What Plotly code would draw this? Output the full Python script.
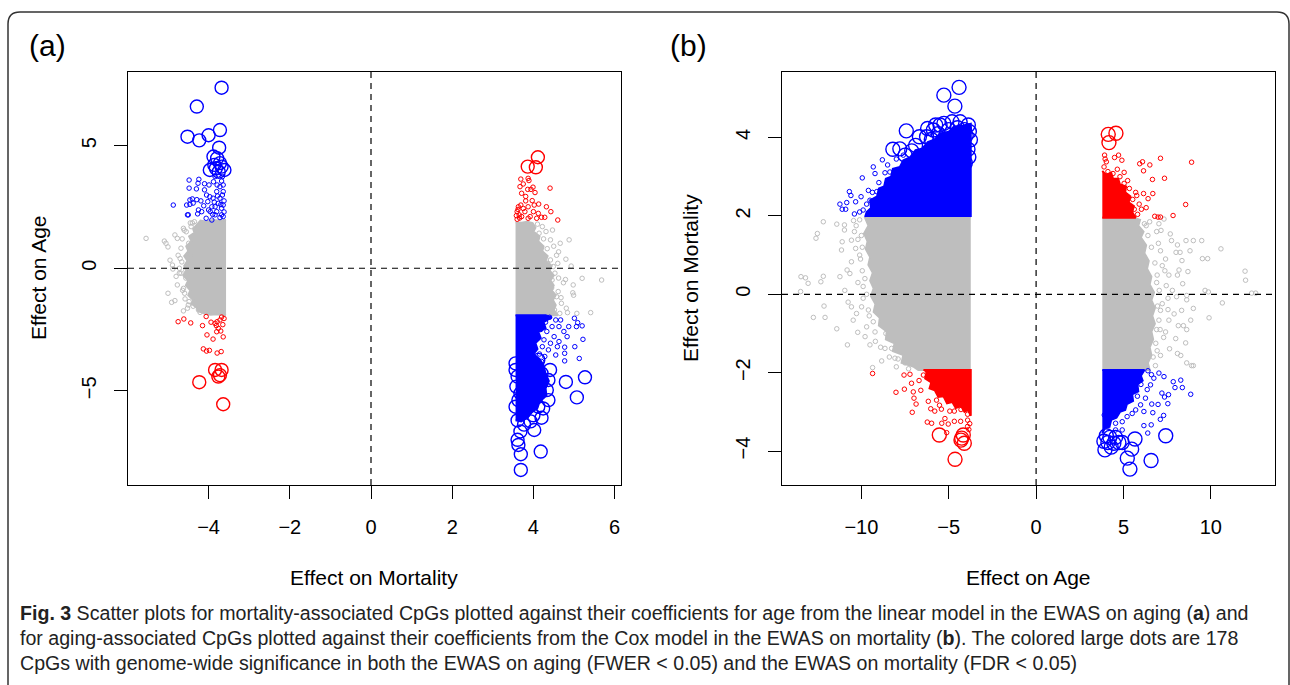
import plotly.graph_objects as go

W, H = 1290, 685
FONT = "Liberation Sans, Arimo, Arial, sans-serif"
CAP_FONT = "Liberation Sans, Arimo, Arial, sans-serif"
GREY, RED, BLUE = "#BEBEBE", "#FF0000", "#0000FF"

# ---------------- Panel (a): x = Effect on Mortality, y = Effect on Age ----------------
A_X_TICKS = [-4, -2, 0, 2, 4, 6]
A_X_LABELS = ["\u22124", "\u22122", "0", "2", "4", "6"]
A_Y_TICKS = [-5, 0, 5]
A_Y_LABELS = ["\u22125", "0", "5"]

A_GREY_L_CORE = [(-3.57, 1.97), (-3.75, 1.95), (-3.90, 1.97), (-4.05, 1.90), (-4.20, 1.95), (-4.30, 1.75),
                 (-4.38, 1.60), (-4.35, 1.45), (-4.48, 1.30), (-4.42, 1.10), (-4.55, 0.90), (-4.50, 0.70),
                 (-4.60, 0.50), (-4.52, 0.30), (-4.60, 0.10), (-4.55, -0.10), (-4.62, -0.30), (-4.50, -0.50),
                 (-4.56, -0.70), (-4.45, -0.90), (-4.50, -1.10), (-4.38, -1.30), (-4.42, -1.45), (-4.30, -1.60),
                 (-4.25, -1.75), (-4.10, -1.85), (-3.95, -1.90), (-3.80, -1.88), (-3.57, -1.92)]
A_GREY_L = [(-5.54, 1.22), (-5.09, 1.11), (-5.05, 1.02), (-5.00, 0.87), (-4.83, 1.36), (-4.77, 1.22),
            (-4.95, 0.33), (-4.89, 0.13), (-4.88, -0.03), (-4.80, -0.33), (-5.00, -1.02), (-4.91, -1.39),
            (-4.83, -1.32), (-4.62, -1.74), (-4.62, 1.63), (-4.55, 1.49), (-4.68, 0.82), (-4.75, 0.53),
            (-4.66, 0.26), (-4.77, -0.68), (-4.62, -0.82), (-4.72, -0.20), (-4.56, -0.40), (-4.59, -1.02),
            (-4.48, -1.36), (-4.52, -1.63), (-4.25, -1.70), (-4.21, -1.80), (-4.43, 1.70), (-4.49, 1.02),
            (-4.46, 0.26), (-4.56, -0.08), (-4.40, 1.85), (-4.45, 0.55), (-4.47, -0.60), (-4.38, -1.55),
            (-4.65, 1.20), (-4.70, 0.40), (-4.68, -0.20), (-4.64, -0.90), (-4.58, -1.25), (-4.45, 1.85),
            (-4.60, 1.55), (-4.72, 0.00), (-4.35, 1.90), (-4.50, -1.50)]
A_BLUE_L_SMALL = [(-4.87, 2.58), (-4.48, 3.60), (-4.48, 3.27), (-4.24, 3.63), (-4.26, 3.47), (-4.30, 3.24),
                  (-4.10, 3.45), (-3.88, 3.53), (-4.46, 2.79), (-4.40, 2.83), (-4.29, 2.80), (-4.19, 2.75),
                  (-4.54, 2.58), (-4.46, 2.61), (-4.38, 2.66), (-4.50, 2.18), (-4.52, 2.18), (-4.25, 2.38),
                  (-4.17, 2.31), (-4.27, 2.22), (-4.00, 2.38), (-4.06, 2.04), (-3.92, 1.97), (-3.68, 2.18),
                  (-4.10, 3.20), (-4.05, 2.99), (-3.97, 2.92), (-3.89, 2.86), (-3.80, 3.13), (-3.72, 3.33),
                  (-3.64, 3.40), (-3.66, 2.99), (-3.76, 2.65), (-3.64, 2.58), (-3.68, 2.45), (-3.84, 2.51),
                  (-3.92, 2.51), (-3.96, 2.31), (-3.84, 2.18), (-3.72, 2.07), (-3.64, 2.11), (-3.76, 3.81),
                  (-3.66, 3.74), (-3.84, 3.74), (-3.68, 3.56), (-3.79, 3.40), (-3.99, 3.40), (-3.64, 3.13),
                  (-3.72, 2.86), (-3.80, 2.31), (-3.62, 2.30), (-3.62, 2.75), (-3.70, 2.60), (-3.78, 2.95),
                  (-3.86, 2.70), (-3.90, 2.20), (-4.12, 2.55), (-4.02, 2.72)]
A_BLUE_L_BIG = [(-3.68, 7.37), (-4.29, 6.60), (-4.52, 5.37), (-4.23, 5.22), (-4.00, 5.43), (-3.72, 5.64),
                (-3.74, 4.92), (-3.88, 4.56), (-3.79, 4.49), (-3.72, 4.29), (-3.68, 4.15), (-3.97, 4.01),
                (-3.61, 4.01), (-3.75, 3.94), (-3.86, 4.22), (-3.82, 4.08)]
A_RED_L_SMALL = [(-4.75, -2.18), (-4.61, -2.07), (-4.44, -2.23), (-4.15, -2.34), (-4.06, -1.97), (-3.94, -2.20),
                 (-3.84, -2.25), (-3.79, -2.18), (-3.72, -2.11), (-3.68, -1.99), (-3.76, -2.45), (-3.81, -2.34),
                 (-3.80, -2.59), (-3.70, -2.56), (-4.04, -2.72), (-3.89, -2.89), (-3.64, -2.80), (-4.13, -3.29),
                 (-4.05, -3.38), (-3.98, -3.35), (-3.79, -3.46), (-3.69, -3.40), (-3.62, -2.05), (-3.65, -2.30)]
A_RED_L_BIG = [(-3.84, -4.15), (-3.68, -4.15), (-3.72, -4.36), (-3.76, -4.42), (-4.23, -4.65), (-3.64, -5.55)]

A_GREY_R_CORE = [(3.56, 1.88), (3.70, 1.86), (3.85, 1.90), (3.98, 1.84), (4.05, 1.65), (4.00, 1.50),
                 (4.15, 1.30), (4.12, 1.10), (4.25, 0.90), (4.22, 0.70), (4.35, 0.50), (4.30, 0.30),
                 (4.45, 0.10), (4.40, -0.10), (4.50, -0.30), (4.42, -0.50), (4.50, -0.70), (4.45, -0.90),
                 (4.55, -1.10), (4.48, -1.30), (4.55, -1.50), (4.50, -1.70), (4.60, -1.92), (3.56, -1.92)]
A_GREY_R = [(5.68, -0.48), (5.41, -1.81), (5.20, -0.41), (4.98, -0.68), (4.97, -1.00), (4.99, -1.10),
            (5.07, -1.84), (4.88, 1.16), (4.80, 0.37), (4.93, 0.09), (4.79, -0.46), (4.74, -0.59),
            (4.66, 1.02), (4.62, 0.67), (4.57, 0.53), (4.47, 1.56), (4.42, 1.16), (4.31, 1.50),
            (4.34, 0.80), (4.69, -1.43), (4.81, -1.63), (4.84, -1.81), (4.61, -0.95), (4.53, -0.20),
            (4.49, 0.07), (4.42, 0.34), (4.46, -0.48), (4.57, -1.16), (4.65, -1.84), (4.22, 1.70),
            (4.14, 1.43), (4.38, -0.20), (4.40, -1.30), (4.35, 0.20), (4.25, 1.20), (4.52, -1.70),
            (4.45, -0.80), (4.10, 1.80), (4.60, 0.20), (4.62, -0.40), (4.68, -1.20), (4.50, 0.90)]
A_RED_R_SMALL = [(3.69, 3.64), (3.87, 3.67), (3.89, 3.58), (3.67, 3.33), (3.75, 3.44), (3.86, 3.22),
                 (3.94, 3.22), (3.99, 3.31), (4.04, 3.09), (3.71, 3.06), (3.81, 2.93), (3.81, 2.75),
                 (3.97, 2.76), (4.41, 3.27), (3.63, 2.51), (3.69, 2.58), (3.75, 2.44), (3.87, 2.51),
                 (4.02, 2.58), (4.13, 2.62), (4.32, 2.51), (4.43, 2.31), (3.60, 2.31), (3.65, 2.18),
                 (3.71, 2.11), (3.79, 2.31), (3.92, 2.11), (4.00, 2.31), (4.12, 2.24), (4.20, 2.08),
                 (4.28, 2.08), (4.60, 1.97), (3.60, 2.00), (3.87, 2.04), (4.08, 2.04), (3.58, 2.15),
                 (3.62, 2.40), (3.66, 2.05)]
A_RED_R_BIG = [(4.11, 4.53), (3.86, 4.15), (4.06, 4.12)]
A_BLUE_R_CORE = [(3.56, -1.92), (4.30, -1.92), (4.45, -2.00), (4.25, -2.20), (4.30, -2.45), (4.12, -2.60),
                 (4.18, -2.85), (4.05, -3.05), (4.10, -3.30), (4.00, -3.50), (4.15, -3.70), (4.25, -3.95),
                 (4.30, -4.30), (4.38, -4.60), (4.30, -4.90), (4.32, -5.20), (4.15, -5.45), (4.10, -5.70),
                 (3.95, -5.90), (3.85, -6.10), (3.70, -6.25), (3.56, -6.20)]
A_BLUE_R_SMALL = [(5.01, -2.04), (5.09, -2.22), (5.20, -2.35), (5.06, -2.38), (5.22, -2.90), (5.02, -3.20),
                  (5.13, -3.68), (4.87, -2.38), (4.75, -2.58), (4.83, -2.79), (4.77, -3.22), (4.63, -2.99),
                  (4.77, -3.47), (4.77, -3.78), (4.59, -3.20), (4.55, -3.54), (4.63, -2.38), (4.67, -2.11),
                  (4.55, -2.11), (4.46, -2.38), (4.51, -2.79), (4.42, -3.06), (4.37, -3.33), (4.28, -3.60),
                  (4.33, -2.58), (4.26, -2.92), (4.22, -3.20), (4.40, -2.00), (4.30, -2.20), (4.18, -2.50),
                  (4.15, -3.50), (4.20, -3.80)]
A_BLUE_R_BIG = [(5.27, -4.45), (4.80, -4.64), (5.07, -5.27), (4.18, -7.48), (3.69, -8.23), (3.69, -7.59),
                (3.63, -7.21), (3.61, -7.00), (3.68, -6.66), (4.02, -6.60), (3.77, -6.38), (3.61, -6.21),
                (3.93, -6.25), (4.12, -5.65), (4.24, -5.72), (3.56, -5.65), (3.63, -5.38), (3.79, -5.31),
                (3.99, -5.38), (4.37, -5.38), (4.33, -4.97), (4.37, -4.56), (4.41, -4.15), (3.56, -4.15),
                (3.61, -4.42), (3.58, -4.83), (3.68, -5.10), (3.89, -5.04), (4.05, -4.56), (4.20, -4.29),
                (3.77, -4.29), (3.85, -3.88), (3.56, -3.88), (4.12, -3.74), (4.00, -6.00), (3.75, -5.90),
                (4.20, -6.10)]

# ---------------- Panel (b): x = Effect on Age, y = Effect on Mortality ----------------
B_X_TICKS = [-10, -5, 0, 5, 10]
B_X_LABELS = ["\u221210", "\u22125", "0", "5", "10"]
B_Y_TICKS = [-4, -2, 0, 2, 4]
B_Y_LABELS = ["\u22124", "\u22122", "0", "2", "4"]

B_GREY_L_CORE = [(-3.74, 1.97), (-9.50, 1.97), (-9.79, 1.95), (-9.60, 1.75), (-9.85, 1.55), (-9.65, 1.35),
                 (-9.75, 1.15), (-9.50, 0.95), (-9.60, 0.75), (-9.35, 0.55), (-9.50, 0.35), (-9.30, 0.15),
                 (-9.45, -0.05), (-9.20, -0.25), (-9.30, -0.45), (-8.95, -0.60), (-9.00, -0.80), (-8.55, -0.95),
                 (-8.60, -1.15), (-8.10, -1.25), (-8.20, -1.45), (-7.60, -1.55), (-7.70, -1.75), (-7.00, -1.85),
                 (-6.74, -1.93), (-3.74, -1.93)]
B_GREY_L = [(-12.18, 1.85), (-12.52, 1.55), (-12.60, 1.43), (-11.41, 1.79), (-10.97, 1.77), (-10.97, 1.64),
            (-10.45, 1.88), (-11.10, 1.34), (-11.14, 1.13), (-10.82, 0.62), (-10.57, 1.38), (-10.33, 1.17),
            (-13.46, 0.45), (-13.20, 0.42), (-13.05, 0.28), (-12.32, 0.32), (-12.18, 0.46), (-11.23, 0.45),
            (-10.66, 0.53), (-10.57, 0.83), (-10.10, 1.00), (-13.48, 0.07), (-12.75, -0.59), (-12.08, -0.59),
            (-12.14, -0.30), (-11.41, -0.88), (-10.80, -1.29), (-10.21, -0.97), (-9.79, -1.08), (-9.51, -1.29),
            (-9.36, -1.87), (-8.84, -1.70), (-8.65, -1.38), (-9.22, -0.96), (-9.32, -0.70), (-10.47, -0.66),
            (-10.57, -0.32), (-10.76, -0.20), (-10.95, 0.10), (-10.28, -0.49), (-9.99, -0.32), (-9.70, -0.83),
            (-8.27, -1.38), (-8.08, -1.63), (-10.00, 1.50), (-9.95, 0.60), (-9.90, 0.20), (-9.60, -0.40),
            (-10.20, 0.30), (-10.40, 1.60), (-9.95, 1.20), (-8.60, -1.00), (-7.50, -1.75), (-7.30, -1.90),
            (-8.00, -1.85), (-10.10, 1.90), (-10.20, 1.40), (-10.05, 0.90), (-9.80, 0.40), (-9.70, 0.00),
            (-9.55, -0.55), (-9.20, -1.20), (-8.90, -1.35), (-8.40, -1.60), (-7.90, -1.65), (-10.30, 1.75),
            (-9.90, -0.10)]
B_BLUE_L_CORE = [(-9.79, 1.97), (-9.70, 2.10), (-9.45, 2.20), (-9.50, 2.40), (-9.10, 2.50), (-9.00, 2.70),
                 (-8.70, 2.75), (-8.60, 2.95), (-8.30, 3.00), (-8.20, 3.20), (-7.80, 3.25), (-7.60, 3.42),
                 (-7.20, 3.50), (-6.90, 3.68), (-6.50, 3.72), (-6.20, 3.88), (-5.80, 3.95), (-5.50, 4.10),
                 (-5.00, 4.15), (-4.70, 4.28), (-4.20, 4.30), (-3.74, 4.35), (-3.74, 1.97)]
B_BLUE_L_SMALL = [(-11.23, 2.30), (-11.10, 2.17), (-10.90, 2.17), (-10.84, 2.34), (-10.69, 2.62), (-10.60, 2.52),
                  (-10.33, 2.36), (-10.02, 2.49), (-9.95, 2.97), (-9.70, 2.30), (-9.32, 3.25), (-9.22, 3.08),
                  (-8.80, 3.43), (-8.65, 3.10), (-8.37, 3.12), (-9.37, 2.60), (-9.12, 2.62), (-9.51, 2.40),
                  (-10.10, 2.10), (-9.90, 2.15), (-9.00, 2.85), (-8.50, 3.30), (-8.00, 3.45), (-7.60, 3.55),
                  (-9.60, 2.65), (-10.40, 2.05)]
B_BLUE_L_BIG = [(-8.20, 3.70), (-7.80, 3.71), (-7.43, 4.17), (-7.12, 3.66), (-6.68, 4.02), (-6.27, 4.02),
                (-6.21, 4.23), (-5.88, 4.19), (-5.75, 4.32), (-5.50, 4.32), (-5.28, 4.36), (-4.81, 4.40),
                (-4.35, 4.40), (-3.88, 4.32), (-3.76, 3.94), (-5.28, 5.08), (-4.41, 5.28), (-4.65, 4.80),
                (-4.10, 4.20), (-4.50, 4.25), (-5.00, 4.20), (-5.60, 4.10), (-6.00, 3.95), (-6.90, 3.80),
                (-7.50, 3.55), (-4.00, 4.05), (-3.90, 3.70), (-4.20, 3.85), (-4.60, 4.05), (-3.82, 4.15),
                (-3.85, 3.50), (-4.05, 3.35)]
B_RED_L_CORE = [(-6.45, -1.93), (-3.74, -1.93), (-3.74, -3.10), (-3.90, -2.95), (-4.10, -3.00), (-4.30, -2.85),
                (-4.60, -2.90), (-4.80, -2.75), (-5.10, -2.78), (-5.30, -2.60), (-5.60, -2.62), (-5.80, -2.45),
                (-6.10, -2.40), (-6.00, -2.25), (-6.35, -2.15), (-6.30, -2.02)]
B_RED_L_SMALL = [(-9.36, -2.02), (-8.02, -2.50), (-7.54, -2.42), (-7.56, -2.06), (-7.22, -2.04), (-7.13, -2.27),
                 (-7.03, -2.49), (-6.99, -2.65), (-6.87, -2.80), (-7.09, -3.01), (-6.45, -2.06), (-6.17, -2.73),
                 (-6.03, -2.92), (-5.80, -2.98), (-5.53, -2.83), (-5.42, -2.93), (-6.23, -3.26), (-5.98, -3.29),
                 (-5.40, -3.29), (-5.22, -3.17), (-5.03, -3.31), (-4.94, -2.98), (-4.68, -2.98), (-4.68, -3.24),
                 (-4.32, -3.24), (-3.92, -3.06), (-3.92, -3.21), (-4.30, -2.94), (-4.10, -2.85), (-5.12, -3.53),
                 (-3.92, -3.37), (-6.70, -2.20), (-6.60, -2.45), (-5.70, -2.70), (-3.80, -3.30), (-3.85, -3.45)]
B_RED_L_BIG = [(-5.54, -3.59), (-4.17, -3.59), (-4.26, -3.67), (-4.11, -3.80), (-4.30, -3.72), (-4.64, -4.21)]

B_GREY_R_CORE = [(3.79, 1.95), (5.60, 1.95), (5.95, 1.90), (5.85, 1.75), (6.15, 1.60), (6.00, 1.45),
                 (6.30, 1.25), (6.20, 1.05), (6.45, 0.85), (6.35, 0.65), (6.60, 0.45), (6.50, 0.25),
                 (6.75, 0.05), (6.60, -0.15), (6.80, -0.35), (6.65, -0.55), (6.80, -0.75), (6.60, -0.95),
                 (6.70, -1.15), (6.50, -1.35), (6.60, -1.55), (6.40, -1.75), (6.50, -1.93), (3.79, -1.93)]
B_GREY_R = [(11.96, 0.59), (11.99, 0.36), (12.34, 0.03), (12.57, 0.03), (10.58, 1.16), (10.66, -0.22),
            (9.90, -0.60), (9.52, 0.91), (9.82, 0.91), (9.67, 0.10), (9.86, 0.06), (9.48, 1.37),
            (9.00, 1.37), (8.58, 1.37), (8.09, 1.26), (8.01, 1.07), (8.24, 1.07), (8.81, 1.11),
            (8.35, 0.86), (8.69, 0.58), (8.18, 0.62), (8.09, 0.49), (8.39, 0.27), (8.62, -0.03),
            (7.60, 0.49), (7.55, -0.10), (8.04, -0.06), (8.62, -0.14), (9.00, -0.36), (8.33, -0.41),
            (8.85, -0.66), (8.62, -0.90), (8.14, -0.80), (8.43, -0.80), (7.55, -0.39), (7.60, -0.66),
            (8.56, -1.24), (7.99, -1.13), (8.09, -1.51), (8.28, -1.56), (8.62, -1.75), (8.90, -1.82),
            (9.00, -1.82), (7.64, -1.39), (7.41, -0.96), (7.22, -0.24), (7.45, 0.22), (7.37, 0.60),
            (7.22, 0.73), (7.75, 1.37), (7.68, 1.54), (7.15, 1.63), (7.32, 1.92), (7.03, 1.80),
            (7.41, 0.90), (7.12, 1.11), (6.93, 0.49), (7.12, -0.41), (7.03, -0.66), (6.93, -1.44),
            (7.12, -1.56), (6.83, -1.82), (6.40, 1.50), (6.60, 1.20), (6.80, 0.80), (6.90, 0.30),
            (6.95, -0.30), (6.90, -0.90), (6.70, -1.60), (6.20, 1.80), (6.50, 1.85), (7.00, 1.30),
            (7.30, -1.10), (7.80, 0.10), (7.90, -0.50), (6.90, 1.60), (7.05, 0.10), (7.10, -0.90),
            (6.85, -1.25), (6.30, 1.75)]
B_RED_R_CORE = [(3.79, 1.95), (5.70, 1.95), (5.50, 2.10), (5.60, 2.25), (5.30, 2.35), (5.40, 2.50),
                (5.10, 2.60), (5.15, 2.75), (4.80, 2.80), (4.70, 2.95), (4.40, 2.95), (4.30, 3.10),
                (4.00, 3.05), (3.79, 3.15)]
B_RED_R_SMALL = [(3.92, 3.55), (3.95, 3.45), (4.02, 3.38), (4.49, 3.49), (4.72, 3.55), (4.91, 3.42),
                 (3.89, 3.25), (4.11, 3.13), (4.40, 3.08), (4.65, 3.19), (5.04, 3.11), (5.93, 3.33),
                 (6.09, 3.38), (6.51, 3.30), (7.12, 3.47), (8.90, 3.37), (6.15, 3.15), (6.66, 2.93),
                 (7.35, 2.96), (5.76, 2.52), (6.15, 2.57), (6.68, 2.57), (6.41, 2.44), (6.30, 2.21),
                 (6.03, 2.17), (6.79, 1.99), (6.98, 1.97), (7.12, 1.97), (7.84, 2.01), (8.56, 2.29),
                 (5.24, 2.90), (5.34, 2.70), (5.04, 2.83), (5.53, 2.42), (5.62, 2.17), (5.81, 2.04),
                 (5.90, 2.30), (5.70, 2.60), (4.80, 3.00)]
B_RED_R_BIG = [(4.13, 4.08), (4.57, 4.11), (4.17, 3.87)]
B_BLUE_R_CORE = [(3.79, -1.93), (6.20, -1.93), (6.00, -2.08), (6.10, -2.20), (5.80, -2.30), (5.85, -2.48),
                 (5.50, -2.55), (5.55, -2.72), (5.20, -2.80), (5.10, -2.95), (4.80, -3.00), (4.60, -3.15),
                 (4.30, -3.20), (4.20, -3.38), (3.95, -3.40), (3.79, -3.55)]
B_BLUE_R_SMALL = [(7.85, -2.23), (8.28, -2.19), (7.95, -2.38), (8.37, -2.38), (8.85, -2.55), (7.54, -2.79),
                  (7.35, -2.62), (7.58, -2.56), (7.20, -2.52), (6.98, -2.81), (7.30, -3.09), (7.11, -3.19),
                  (6.68, -3.02), (6.62, -2.80), (6.17, -2.99), (6.59, -3.33), (6.17, -3.35), (6.39, -3.54),
                  (7.32, -2.10), (7.03, -2.01), (6.74, -2.14), (6.55, -2.31), (6.36, -2.43), (6.26, -2.65),
                  (5.98, -2.82), (5.70, -2.95), (5.50, -3.04), (5.21, -3.12), (4.93, -3.25), (4.55, -3.29),
                  (4.17, -3.21), (3.90, -3.08), (4.93, -3.46), (4.55, -3.46), (6.40, -1.95), (6.60, -2.05),
                  (6.00, -2.30), (5.80, -2.60)]
B_BLUE_R_BIG = [(7.42, -3.61), (6.58, -4.24), (5.37, -4.46), (5.22, -4.18), (5.47, -3.95), (5.66, -3.69),
                (3.94, -3.97), (4.11, -3.78), (4.02, -3.61), (4.45, -3.80), (4.74, -3.78), (4.22, -3.65),
                (4.55, -3.65), (4.93, -3.78), (3.88, -3.75), (4.30, -3.90)]

CAPTION = [
    "<b>Fig. 3</b> Scatter plots for mortality-associated CpGs plotted against their coefficients for age "
    "from the linear model in the EWAS on aging (<b>a</b>) and",
    "for aging-associated CpGs plotted against their coefficients from the Cox model in the EWAS on "
    "mortality (<b>b</b>). The colored large dots are 178",
    "CpGs with genome-wide significance in both the EWAS on aging (FWER &lt; 0.05) and the EWAS on "
    "mortality (FDR &lt; 0.05)",
]

fig = go.Figure()


def xs(pts):
    return [p[0] for p in pts]


def ys(pts):
    return [p[1] for p in pts]


def core(pts, color, xa, ya):
    fig.add_trace(go.Scatter(x=xs(pts), y=ys(pts), mode="lines", fill="toself", fillcolor=color,
                             line=dict(color=color, width=2), xaxis=xa, yaxis=ya,
                             hoverinfo="skip", showlegend=False))


def pts(p, color, size, lw, xa, ya):
    fig.add_trace(go.Scatter(x=xs(p), y=ys(p), mode="markers",
                             marker=dict(symbol="circle-open", size=size, color=color,
                                         line=dict(width=lw, color=color)),
                             xaxis=xa, yaxis=ya, hoverinfo="skip", showlegend=False))


SM, BIG_A, BIG_B = 4.5, 13, 14
# panel a
core(A_GREY_L_CORE, GREY, "x", "y")
core(A_GREY_R_CORE, GREY, "x", "y")
pts(A_GREY_L, GREY, SM, 1, "x", "y")
pts(A_GREY_R, GREY, SM, 1, "x", "y")
core(A_BLUE_R_CORE, BLUE, "x", "y")
pts(A_BLUE_L_SMALL, BLUE, SM, 1, "x", "y")
pts(A_BLUE_R_SMALL, BLUE, SM, 1, "x", "y")
pts(A_RED_L_SMALL, RED, SM, 1, "x", "y")
pts(A_RED_R_SMALL, RED, SM, 1, "x", "y")
pts(A_BLUE_L_BIG, BLUE, BIG_A, 1.4, "x", "y")
pts(A_BLUE_R_BIG, BLUE, BIG_A, 1.4, "x", "y")
pts(A_RED_L_BIG, RED, BIG_A, 1.4, "x", "y")
pts(A_RED_R_BIG, RED, BIG_A, 1.4, "x", "y")
# panel b
core(B_GREY_L_CORE, GREY, "x2", "y2")
core(B_GREY_R_CORE, GREY, "x2", "y2")
pts(B_GREY_L, GREY, SM, 1, "x2", "y2")
pts(B_GREY_R, GREY, SM, 1, "x2", "y2")
core(B_BLUE_L_CORE, BLUE, "x2", "y2")
core(B_RED_L_CORE, RED, "x2", "y2")
core(B_RED_R_CORE, RED, "x2", "y2")
core(B_BLUE_R_CORE, BLUE, "x2", "y2")
pts(B_BLUE_L_SMALL, BLUE, SM, 1, "x2", "y2")
pts(B_RED_L_SMALL, RED, SM, 1, "x2", "y2")
pts(B_RED_R_SMALL, RED, SM, 1, "x2", "y2")
pts(B_BLUE_R_SMALL, BLUE, SM, 1, "x2", "y2")
pts(B_BLUE_L_BIG, BLUE, BIG_B, 1.4, "x2", "y2")
pts(B_RED_L_BIG, RED, BIG_B, 1.4, "x2", "y2")
pts(B_RED_R_BIG, RED, BIG_B, 1.4, "x2", "y2")
pts(B_BLUE_R_BIG, BLUE, BIG_B, 1.4, "x2", "y2")


def fx(px):
    return px / W


def fy(py):
    return 1 - py / H


axis_common = dict(showgrid=False, zeroline=False, showline=True, linecolor="black", linewidth=1.2,
                   mirror=True, ticks="outside", ticklen=13, tickwidth=1.2, tickcolor="black",
                   tickfont=dict(family=FONT, size=20, color="black"), fixedrange=True)
Y_DOM = [fy(485), fy(72)]

fig.update_layout(
    width=W, height=H, margin=dict(l=0, r=0, t=0, b=0),
    paper_bgcolor="white", plot_bgcolor="white", showlegend=False, hovermode=False,
    xaxis=dict(axis_common, domain=[fx(128), fx(620.5)], range=[-5.985, 6.145], anchor="y",
               tickvals=A_X_TICKS, ticktext=A_X_LABELS, ticklabelstandoff=11),
    yaxis=dict(axis_common, domain=Y_DOM, range=[-8.845, 8.01], anchor="x",
               tickvals=A_Y_TICKS, ticktext=A_Y_LABELS, tickangle=-90, ticklabelstandoff=10),
    xaxis2=dict(axis_common, domain=[fx(782), fx(1274.5)], range=[-14.545, 13.646], anchor="y2",
                tickvals=B_X_TICKS, ticktext=B_X_LABELS, ticklabelstandoff=11),
    yaxis2=dict(axis_common, domain=Y_DOM, range=[-4.865, 5.671], anchor="x2",
                tickvals=B_Y_TICKS, ticktext=B_Y_LABELS, tickangle=-90, ticklabelstandoff=10),
)

dash = dict(color="black", width=1.2, dash="6px,5px")
shapes = []
for xa, ya in (("x", "y"), ("x2", "y2")):
    shapes.append(dict(type="line", xref=xa, yref=ya + " domain", x0=0, x1=0, y0=0, y1=1,
                       line=dash, layer="above"))
    shapes.append(dict(type="line", xref=xa + " domain", yref=ya, x0=0, x1=1, y0=0, y1=0,
                       line=dash, layer="above"))

r = 12
path = (f"M {fx(8)},{fy(700)} L {fx(8)},{fy(12 + r)} Q {fx(8)},{fy(12)} {fx(8 + r)},{fy(12)} "
        f"L {fx(1289 - r)},{fy(12)} Q {fx(1289)},{fy(12)} {fx(1289)},{fy(12 + r)} L {fx(1289)},{fy(700)}")
shapes.append(dict(type="path", xref="paper", yref="paper", path=path,
                   line=dict(color="#333333", width=1.5), layer="above"))
fig.update_layout(shapes=shapes)

ann = []
ann.append(dict(text="(a)", x=fx(27), y=fy(45), xref="paper", yref="paper", xanchor="left",
                yanchor="middle", showarrow=False, font=dict(family=FONT, size=30, color="black")))
ann.append(dict(text="(b)", x=fx(668), y=fy(45), xref="paper", yref="paper", xanchor="left",
                yanchor="middle", showarrow=False, font=dict(family=FONT, size=30, color="black")))
title_font = dict(family=FONT, size=21, color="black")
ann.append(dict(text="Effect on Mortality", x=fx(374), y=fy(577), xref="paper", yref="paper",
                showarrow=False, font=title_font, xanchor="center", yanchor="middle"))
ann.append(dict(text="Effect on Age", x=fx(38), y=fy(278), xref="paper", yref="paper", textangle=-90,
                showarrow=False, font=title_font, xanchor="center", yanchor="middle"))
ann.append(dict(text="Effect on Age", x=fx(1028), y=fy(577), xref="paper", yref="paper",
                showarrow=False, font=title_font, xanchor="center", yanchor="middle"))
ann.append(dict(text="Effect on Mortality", x=fx(690), y=fy(278), xref="paper", yref="paper",
                textangle=-90, showarrow=False, font=title_font, xanchor="center", yanchor="middle"))
for i, line in enumerate(CAPTION):
    ann.append(dict(text=line, x=fx(18), y=fy(613 + 25 * i), xref="paper", yref="paper",
                    xanchor="left", yanchor="middle", showarrow=False, align="left",
                    font=dict(family=CAP_FONT, size=19.6, color="#222222")))
fig.update_layout(annotations=ann)

fig.write_html("out.html")
